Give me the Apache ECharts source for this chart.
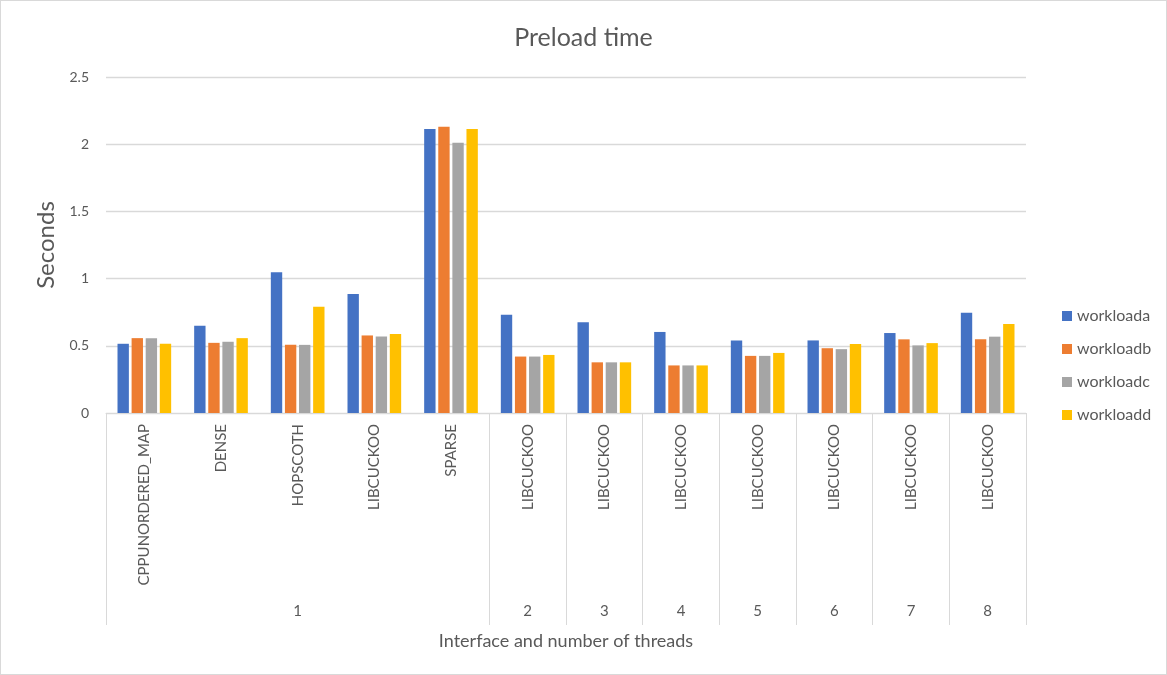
<!DOCTYPE html>
<html>
<head>
<meta charset="utf-8">
<script src="https://cdn.jsdelivr.net/npm/echarts@6/dist/echarts.min.js"></script>
<style>
  html, body { margin: 0; padding: 0; background: #fff; }
  #chart { width: 1165px; height: 673px; border: 1px solid #d9d9d9; }
</style>
</head>
<body>
<div id="chart"></div>
<script>
// Interface per bar group and the thread count it ran with
const interfaces = ['CPPUNORDERED_MAP', 'DENSE', 'HOPSCOTH', 'LIBCUCKOO', 'SPARSE',
  'LIBCUCKOO', 'LIBCUCKOO', 'LIBCUCKOO', 'LIBCUCKOO', 'LIBCUCKOO', 'LIBCUCKOO', 'LIBCUCKOO'];
const threads = [1, 1, 1, 1, 1, 2, 3, 4, 5, 6, 7, 8];

const seriesNames = ['workloada', 'workloadb', 'workloadc', 'workloadd'];
const workloada = [0.515, 0.65, 1.047, 0.885, 2.114, 0.731, 0.676, 0.603, 0.54, 0.54, 0.595, 0.746];
const workloadb = [0.557, 0.522, 0.507, 0.577, 2.13, 0.42, 0.377, 0.354, 0.425, 0.482, 0.548, 0.548];
const workloadc = [0.557, 0.53, 0.507, 0.57, 2.01, 0.42, 0.377, 0.354, 0.425, 0.475, 0.503, 0.568];
const workloadd = [0.515, 0.557, 0.79, 0.587, 2.114, 0.432, 0.377, 0.354, 0.447, 0.513, 0.52, 0.663];

const yTicks = [0, 0.5, 1, 1.5, 2, 2.5];

const colors = ['#4472C4', '#ED7D31', '#A5A5A5', '#FFC000'];
const textColor = '#595959';
const lineColor = '#d9d9d9';
const font = 'Lato, "Open Sans", sans-serif';

// Group boundaries: a category starts a new group when its thread count changes
const groupStart = threads.map((t, i) => i === 0 || threads[i - 1] !== t);
// Put each group's label on its middle category
const groupLabels = threads.map(() => '');
{
  let s = 0;
  for (let i = 1; i <= threads.length; i++) {
    if (i === threads.length || threads[i] !== threads[s]) {
      const mid = Math.floor((s + i - 1) / 2);
      groupLabels[mid] = String(threads[s]);
      s = i;
    }
  }
}

const chart = echarts.init(document.getElementById('chart'));
const values = [workloada, workloadb, workloadc, workloadd];

chart.setOption({
  animation: false,
  color: colors,
  textStyle: { fontFamily: font },
  title: {
    text: 'Preload time',
    left: 'center',
    top: 19,
    textStyle: { fontFamily: font, fontSize: 25, fontWeight: 'normal', color: textColor }
  },
  legend: {
    orient: 'vertical',
    left: 1056,
    top: 302,
    itemWidth: 10,
    itemHeight: 10,
    itemGap: 17,
    icon: 'rect',
    textStyle: { fontFamily: font, fontSize: 16, color: textColor },
    data: seriesNames
  },
  grid: { left: 105, right: 140, top: 76, bottom: 261, containLabel: false },
  xAxis: [
    {
      type: 'category',
      data: interfaces,
      position: 'bottom',
      axisLine: { show: true, lineStyle: { color: lineColor } },
      axisTick: {
        show: true,
        length: 212,
        interval: (i) => groupStart[i],
        lineStyle: { color: lineColor }
      },
      axisLabel: {
        rotate: 90,
        interval: 0,
        margin: 11,
        fontFamily: font,
        fontSize: 15,
        color: textColor
      },
      name: 'Interface and number of threads',
      nameLocation: 'middle',
      nameGap: 219,
      nameTextStyle: { fontFamily: font, fontSize: 18, color: textColor }
    },
    {
      type: 'category',
      data: groupLabels,
      position: 'bottom',
      offset: 189,
      axisLine: { show: false },
      axisTick: { show: false },
      axisLabel: { interval: 0, fontFamily: font, fontSize: 15, color: textColor, margin: 2 }
    }
  ],
  yAxis: {
    type: 'value',
    min: yTicks[0],
    max: yTicks[yTicks.length - 1],
    interval: yTicks[1] - yTicks[0],
    name: 'Seconds',
    nameLocation: 'middle',
    nameGap: 48,
    nameTextStyle: { fontFamily: font, fontSize: 24, color: textColor },
    axisLine: { show: false },
    axisTick: { show: false },
    axisLabel: { fontFamily: font, fontSize: 14, color: textColor, margin: 17 },
    splitLine: { lineStyle: { color: lineColor, width: 1.3 } }
  },
  series: seriesNames.map((name, k) => ({
    name,
    type: 'bar',
    data: values[k],
    barGap: '24%',
    barCategoryGap: '30%'
  }))
});
</script>
</body>
</html>
